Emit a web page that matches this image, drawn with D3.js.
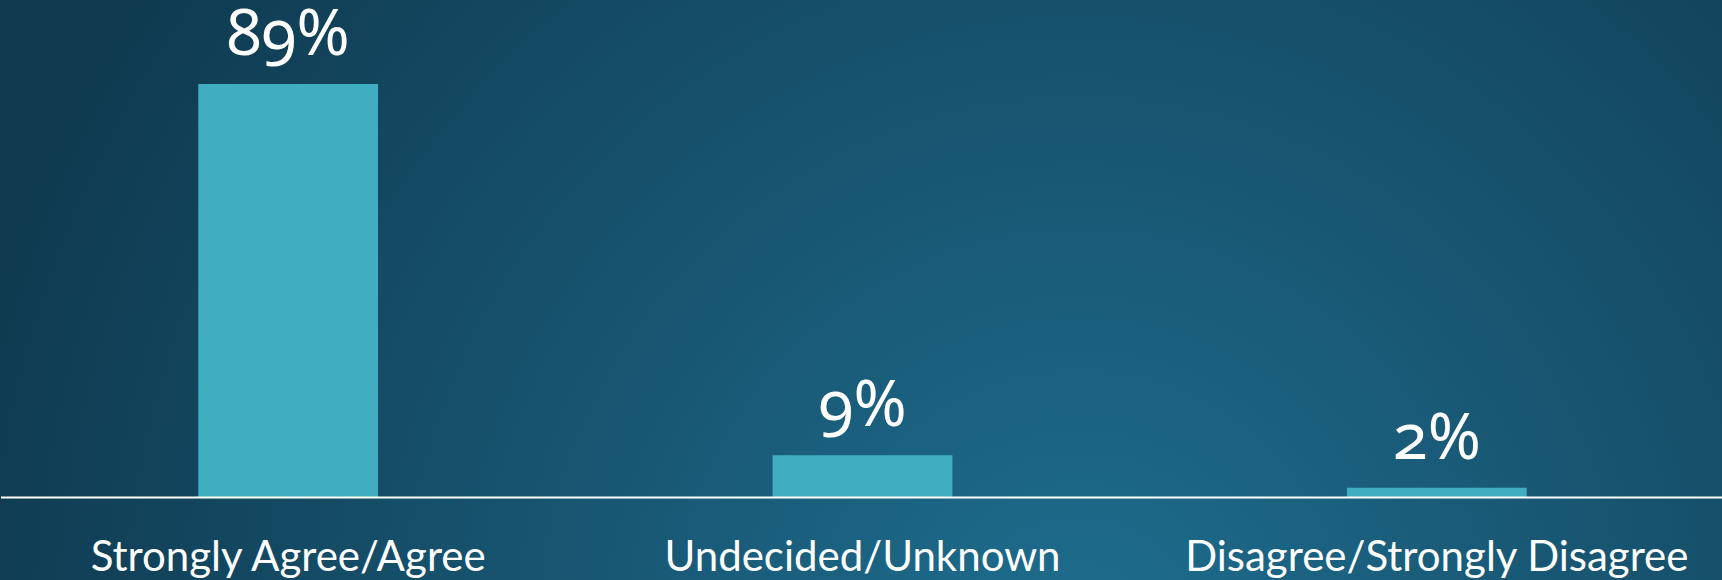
<!DOCTYPE html>
<html>
<head>
<meta charset="utf-8">
<script src="https://cdn.jsdelivr.net/npm/d3@7"></script>
<style>
html, body { margin: 0; padding: 0; background: #123f55; }
svg { display: block; }
</style>
</head>
<body>
<script>
const categories = ["Strongly Agree/Agree", "Undecided/Unknown", "Disagree/Strongly Disagree"];
const values = [89, 9, 2];
const valueLabels = ["89%", "9%", "2%"];

const W = 1722, H = 580;
const svg = d3.select("body").append("svg").attr("width", W).attr("height", H);

const defs = svg.append("defs");
const grad = defs.append("radialGradient").attr("id", "bg")
  .attr("gradientUnits", "userSpaceOnUse")
  .attr("cx", 1080).attr("cy", 640).attr("r", 1150);
grad.append("stop").attr("offset", "0").attr("stop-color", "#1e6d8e");
grad.append("stop").attr("offset", "0.5").attr("stop-color", "#17536f");
grad.append("stop").attr("offset", "1").attr("stop-color", "#0f3a50");
svg.append("rect").attr("width", W).attr("height", H).attr("fill", "url(#bg)");

const baseY = 497;
const x = d3.scaleBand().domain(categories).range([1, 1724]).paddingInner(0.687).paddingOuter(0.3435);
const y = d3.scaleLinear().domain([0, 89]).range([baseY, 84]);

svg.selectAll("rect.bar").data(values).join("rect").attr("class", "bar")
  .attr("x", (d, i) => x(categories[i]))
  .attr("y", d => y(d))
  .attr("width", x.bandwidth())
  .attr("height", d => baseY - y(d))
  .attr("fill", "#40aebf");

svg.selectAll("text.val").data(values).join("text").attr("class", "val")
  .attr("x", (d, i) => x(categories[i]) + x.bandwidth() / 2)
  .attr("y", d => y(d) - 29)
  .attr("text-anchor", "middle")
  .attr("fill", "#ffffff")
  .style("font-family", "'Noto Sans', 'Open Sans', sans-serif")
  .style("font-size", "64px")
  .style("font-variant-numeric", "oldstyle-nums")
  .style("font-feature-settings", "'onum' 1")
  .text((d, i) => valueLabels[i]);

const xAxis = d3.axisBottom(x).tickSize(0).tickPadding(0);
const gx = svg.append("g").attr("transform", `translate(0,${baseY})`).call(xAxis);
gx.select(".domain").remove();
svg.append("line").attr("x1", 1).attr("x2", W).attr("y1", baseY + 0.5).attr("y2", baseY + 0.5)
  .attr("stroke", "#ffffff").attr("stroke-width", 2);
gx.selectAll(".tick text")
  .attr("y", 0).attr("dy", 0)
  .attr("transform", "translate(0,74)")
  .attr("fill", "#ffffff")
  .style("font-family", "Lato, 'Open Sans', sans-serif")
  .style("font-size", "42px");
</script>
</body>
</html>
